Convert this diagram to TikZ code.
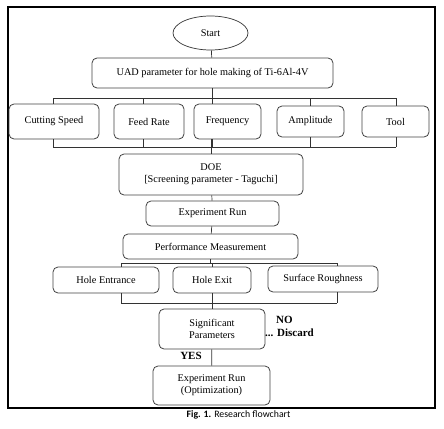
\documentclass[tikz,border=0pt]{standalone}
\usepackage{fontspec}
\usetikzlibrary{shapes.geometric}
\setmainfont{Liberation Serif}
\newfontfamily\capfont{Carlito}
\begin{document}
\begin{tikzpicture}[x=1pt,y=-1pt,
  box/.style={draw=black!75, line width=0.8pt, rounded corners=5pt, align=center, inner sep=1pt, font=\fontsize{10.3}{12}\selectfont},
  conn/.style={draw=black!80, line width=0.7pt},
  lbl/.style={font=\bfseries\fontsize{11}{12}\selectfont, inner sep=0pt}]
\useasboundingbox (0,0) rectangle (444,428);
\draw[line width=1.1pt] (8,7) rectangle (435,408);
\node[draw=black!80, line width=0.7pt, ellipse, minimum width=75pt, minimum height=34pt, inner sep=0pt, font=\fontsize{10.3}{12}\selectfont] (start) at (210.5,33) {Start};
\node[box, minimum width=241pt, minimum height=30pt] (uad) at (212.5,73) {UAD parameter for hole making of Ti-6Al-4V};
\node[box, minimum width=90pt, minimum height=35pt] (cs) at (54,121.5) {Cutting Speed};
\node[box, minimum width=70pt, minimum height=35pt] (fr) at (149,121.5) {Feed Rate};
\node[box, minimum width=67pt, minimum height=35pt] (fq) at (227.5,121.5) {Frequency};
\node[box, minimum width=67pt, minimum height=31pt] (am) at (310.5,121.5) {Amplitude};
\node[box, minimum width=67pt, minimum height=31pt] (tl) at (395.5,121.5) {Tool};
\node[box, minimum width=184pt, minimum height=41pt] (doe) at (211,174.5) {DOE\\\relax [Screening parameter - Taguchi]};
\node[box, minimum width=133pt, minimum height=25pt] (er) at (212.5,213.5) {Experiment Run};
\node[box, minimum width=175pt, minimum height=25pt] (pm) at (210.5,246.5) {Performance Measurement};
\node[box, minimum width=106pt, minimum height=26pt] (he) at (106,280) {Hole Entrance};
\node[box, minimum width=78pt, minimum height=26pt] (hx) at (212,280) {Hole Exit};
\node[box, minimum width=110pt, minimum height=26pt] (sr) at (323,279) {Surface Roughness};
\node[box, minimum width=106pt, minimum height=40pt] (sig) at (212,329) {Significant\\Parameters};
\node[box, minimum width=117pt, minimum height=39pt] (opt) at (211.5,385.5) {Experiment Run\\(Optimization)};
\node[lbl, anchor=west] (no) at (276,320) {NO};
\node[lbl, anchor=west] (disc) at (265,333) {... Discard};
\node[lbl] (yes) at (191,356) {YES};
\node[font=\capfont\fontsize{9.8}{11}\selectfont, inner sep=0pt] (cap) at (238.5,415) {\textbf{Fig. 1.} Research flowchart};
% connectors
\coordinate (t1) at (53,98); \coordinate (t2) at (396,98);
\coordinate (u1) at (53,147); \coordinate (u2) at (396,147);
\draw[conn] (start) -- (uad);
\draw[conn] (uad.south) -- (uad.south |- t1);
\draw[conn] (t1) -- (t2);
\draw[conn] (u1) -- (u2);
\foreach \n/\xx in {cs/53, fr/143, fq/212, am/310, tl/396}{
  \coordinate (vt) at (\xx,98);
  \coordinate (vb) at (\xx,147);
  \draw[conn] (vt) -- (vt |- \n.north);
  \draw[conn] (vb |- \n.south) -- (vb);
}
\draw[conn] (fq.south -| doe.north) -- (doe.north);
\draw[conn] (doe) -- (er);
\draw[conn] (er) -- (pm);
\coordinate (p1) at (121,263); \coordinate (p3) at (337,263);
\coordinate (q1) at (121,303); \coordinate (q3) at (337,303);
\draw[conn] (pm.south) -- (pm.south |- p1);
\draw[conn] (p1) -- (p3);
\draw[conn] (p1) -- (p1 |- he.north);
\draw[conn] (p3) -- (p3 |- sr.north);
\draw[conn] (p1 -| hx.north) -- (hx.north);
\draw[conn] (q1) -- (q3);
\draw[conn] (q1) -- (q1 |- he.south);
\draw[conn] (q3) -- (q3 |- sr.south);
\draw[conn] (hx.south) -- (sig.north);
\draw[conn] (sig) -- (opt);
\end{tikzpicture}
\end{document}
